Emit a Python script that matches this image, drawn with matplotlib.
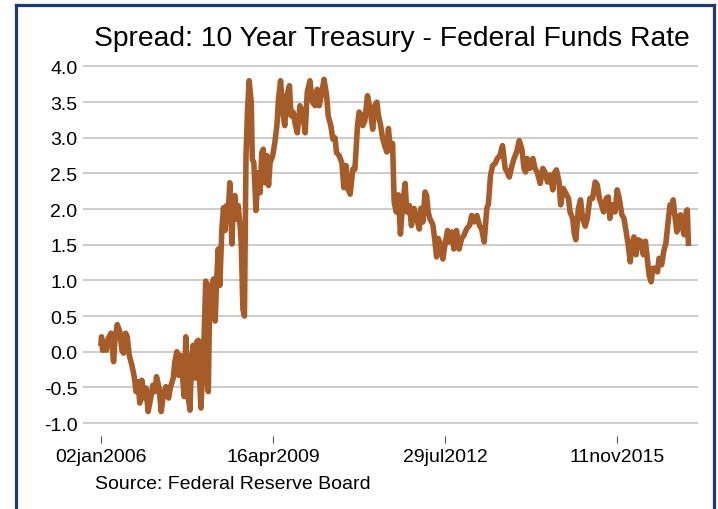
import matplotlib
matplotlib.use('Agg')
import matplotlib.pyplot as plt
import pandas as pd

plt.rcParams['font.family'] = ['Liberation Sans', 'DejaVu Sans']

# spread (10y treasury minus fed funds)
# x is decimal years counted from 02jan2006
years = [
    2006.00, 2006.01, 2006.03, 2006.08, 2006.10, 2006.14, 2006.19, 2006.24, 2006.27, 2006.31,
    2006.36, 2006.40, 2006.43, 2006.47, 2006.50, 2006.54, 2006.59, 2006.63, 2006.67, 2006.71,
    2006.74, 2006.78, 2006.82, 2006.86, 2006.90, 2006.95, 2006.99, 2007.03, 2007.06, 2007.11,
    2007.15, 2007.19, 2007.24, 2007.29, 2007.33, 2007.38, 2007.41, 2007.45, 2007.48, 2007.51,
    2007.56, 2007.59, 2007.62, 2007.66, 2007.70, 2007.73, 2007.76, 2007.80, 2007.83, 2007.86,
    2007.88, 2007.91, 2007.94, 2007.97, 2008.00, 2008.02, 2008.05, 2008.08, 2008.11,
    2008.15, 2008.18, 2008.21, 2008.24, 2008.27, 2008.31, 2008.34, 2008.37, 2008.40, 2008.43,
    2008.46, 2008.50, 2008.53, 2008.56, 2008.59, 2008.62, 2008.66, 2008.68, 2008.71, 2008.74,
    2008.76, 2008.77, 2008.80, 2008.83, 2008.87, 2008.89, 2008.92, 2008.96, 2009.00, 2009.04,
    2009.07, 2009.10, 2009.13, 2009.17, 2009.20, 2009.23, 2009.28, 2009.32, 2009.36, 2009.39,
    2009.43, 2009.47, 2009.51, 2009.55, 2009.60, 2009.63, 2009.67, 2009.71, 2009.75, 2009.80,
    2009.85, 2009.90, 2009.94, 2009.99, 2010.04, 2010.09, 2010.13, 2010.17, 2010.22, 2010.26,
    2010.31, 2010.34, 2010.39, 2010.43, 2010.47, 2010.50, 2010.55, 2010.60, 2010.64, 2010.68,
    2010.72, 2010.76, 2010.81, 2010.85, 2010.90, 2010.93, 2010.96, 2011.00, 2011.04, 2011.09,
    2011.14, 2011.19, 2011.23, 2011.27, 2011.30, 2011.34, 2011.38, 2011.42, 2011.46, 2011.49,
    2011.53, 2011.57, 2011.60, 2011.64, 2011.68, 2011.72, 2011.76, 2011.81, 2011.84, 2011.89,
    2011.93, 2011.98, 2012.03, 2012.08, 2012.11, 2012.15, 2012.19, 2012.22, 2012.25, 2012.28,
    2012.34, 2012.38, 2012.41, 2012.44, 2012.49, 2012.53, 2012.57, 2012.62, 2012.65, 2012.70,
    2012.74, 2012.79, 2012.84, 2012.89, 2012.93, 2012.99, 2013.04, 2013.08, 2013.13, 2013.18,
    2013.23, 2013.27, 2013.32, 2013.37, 2013.40, 2013.44, 2013.48, 2013.53, 2013.57, 2013.62,
    2013.67, 2013.72, 2013.76, 2013.80, 2013.85, 2013.89, 2013.94, 2013.99, 2014.04, 2014.08,
    2014.11, 2014.14, 2014.19, 2014.25, 2014.29, 2014.33, 2014.39, 2014.44, 2014.48, 2014.53,
    2014.58, 2014.63, 2014.67, 2014.70, 2014.75, 2014.78, 2014.83, 2014.88, 2014.93, 2014.96,
    2015.01, 2015.04, 2015.07, 2015.12, 2015.16, 2015.20, 2015.25, 2015.29, 2015.34, 2015.39,
    2015.44, 2015.48, 2015.52, 2015.56, 2015.60, 2015.65, 2015.69, 2015.72, 2015.77, 2015.82,
    2015.86, 2015.90, 2015.95, 2015.99, 2016.03, 2016.07, 2016.11, 2016.14, 2016.18, 2016.22,
    2016.26, 2016.31, 2016.36, 2016.40, 2016.44, 2016.47, 2016.51, 2016.54, 2016.58, 2016.63,
    2016.66, 2016.71, 2016.75, 2016.79, 2016.84, 2016.87, 2016.90, 2016.93, 2016.96, 2017.00,
    2017.03, 2017.07, 2017.11, 2017.14, 2017.18, 2017.20, 2017.22,
]
spread = [
    0.12, 0.21, 0.02, 0.14, 0.02, 0.19, 0.26, -0.14, 0.19, 0.38,
    0.28, 0.02, -0.02, 0.26, 0.21, -0.05, -0.19, -0.33, -0.56, -0.42,
    -0.72, -0.40, -0.65, -0.51, -0.84, -0.65, -0.47, -0.56, -0.35, -0.51,
    -0.84, -0.61, -0.49, -0.65, -0.49, -0.37, -0.14, 0.00, -0.33, -0.05,
    -0.37, -0.63, 0.21, -0.61, -0.82, -0.09, 0.09, -0.37, 0.14, 0.16,
    -0.37, -0.79, -0.28, 0.23, 0.99, -0.37, -0.56, 0.93, 0.89,
    1.02, 0.43, 1.02, 1.44, 0.93, 1.74, 2.02, 1.70, 2.05, 1.95,
    2.37, 1.51, 2.09, 2.19, 1.86, 2.05, 1.74, 1.50, 0.60, 0.50,
    2.00, 2.75, 3.40, 3.80, 3.50, 2.70, 2.65, 1.98, 2.51, 2.23,
    2.79, 2.84, 2.37, 2.75, 2.33, 2.65, 2.75, 2.93, 3.17, 3.54,
    3.80, 3.36, 3.17, 3.59, 3.73, 3.31, 3.36, 3.19, 3.07, 3.45,
    3.36, 3.07, 3.64, 3.80, 3.50, 3.45, 3.68, 3.45, 3.64, 3.82,
    3.59, 3.31, 3.17, 2.98, 3.00, 2.79, 2.75, 2.65, 2.30, 2.61,
    2.28, 2.21, 2.56, 2.56, 3.17, 3.36, 3.33, 3.17, 3.24, 3.59,
    3.40, 3.12, 3.45, 3.50, 3.31, 3.18, 2.99, 2.89, 2.80, 3.13,
    2.83, 2.92, 2.10, 1.96, 2.20, 1.65, 2.05, 2.36, 1.96, 2.05,
    1.77, 2.01, 1.87, 1.72, 2.01, 1.82, 2.24, 2.19, 1.96, 1.87,
    1.78, 1.54, 1.33, 1.59, 1.50, 1.30, 1.50, 1.70, 1.54, 1.68,
    1.44, 1.70, 1.44, 1.59, 1.63, 1.73, 1.77, 1.91, 1.82, 1.91,
    1.77, 1.72, 1.54, 2.01, 2.07, 2.47, 2.61, 2.64, 2.71, 2.75,
    2.89, 2.57, 2.52, 2.45, 2.61, 2.71, 2.80, 2.96, 2.84, 2.57,
    2.52, 2.71, 2.57, 2.71, 2.57, 2.52, 2.36, 2.57, 2.52, 2.38,
    2.48, 2.27, 2.52, 2.55, 2.38, 2.06, 2.29, 2.22, 2.15, 1.96,
    1.87, 1.66, 1.57, 2.01, 2.13, 1.87, 1.76, 1.87, 2.15, 2.15,
    2.38, 2.34, 2.15, 2.06, 1.96, 2.15, 2.17, 1.87, 2.06, 1.96,
    2.27, 2.15, 1.92, 1.87, 1.69, 1.50, 1.26, 1.50, 1.61, 1.36,
    1.57, 1.55, 1.36, 1.55, 1.27, 1.07, 0.98, 1.17, 1.17, 1.12,
    1.31, 1.22, 1.41, 1.52, 1.87, 2.06, 2.01, 2.13, 1.92, 1.68,
    1.87, 1.92, 1.73, 1.64, 1.97, 1.99, 1.52,
]

tick_dates = ['2006-01-02', '2009-04-16', '2012-07-29', '2015-11-11']
tick_labels = ['02jan2006', '16apr2009', '29jul2012', '11nov2015']
y_ticks = [-1.0, -0.5, 0.0, 0.5, 1.0, 1.5, 2.0, 2.5, 3.0, 3.5, 4.0]

start = pd.Timestamp('2006-01-02')
tick_pos = [2006 + (pd.Timestamp(d) - start).days / 365.25 for d in tick_dates]

fig = plt.figure(figsize=(7.18, 5.10), dpi=100)
ax = fig.add_axes([83 / 718, 73 / 510, 615 / 718, 377 / 510])

ax.plot(years, spread, color='#a65c29', lw=4.0, solid_joinstyle='round')

ax.set_xlim(2005.656, 2017.404)
ax.set_ylim(-1.182, 4.105)
ax.set_yticks(y_ticks)
ax.set_yticklabels([f'{v:.1f}' for v in y_ticks])
ax.set_xticks(tick_pos)
ax.set_xticklabels(tick_labels)

for v in y_ticks:
    ax.axhline(v, color='#c4c4c4', lw=1.2, zorder=0)

for s in ax.spines.values():
    s.set_visible(False)
ax.tick_params(axis='y', length=0, pad=4, labelsize=14)
ax.tick_params(axis='x', length=5, width=0.8, color='#555555', pad=4, labelsize=14)

fig.text(392 / 718, 471 / 510, 'Spread: 10 Year Treasury - Federal Funds Rate',
         ha='center', va='center', fontsize=20.3)
fig.text(95 / 718, 25 / 510, 'Source: Federal Reserve Board',
         ha='left', va='center', fontsize=14)

# dark blue frame round the graph (bottom edge runs off the image)
navy = '#1d3c6b'
fig.add_artist(plt.Line2D([15.5 / 718, 15.5 / 718], [0, 504 / 510], color=navy, lw=2.3,
                          transform=fig.transFigure))
fig.add_artist(plt.Line2D([15.5 / 718, 713.5 / 718], [504 / 510, 504 / 510], color=navy, lw=2.3,
                          transform=fig.transFigure))
fig.add_artist(plt.Line2D([713.5 / 718, 713.5 / 718], [0, 504 / 510], color=navy, lw=2.3,
                          transform=fig.transFigure))

fig.savefig('out.png', dpi=100)
